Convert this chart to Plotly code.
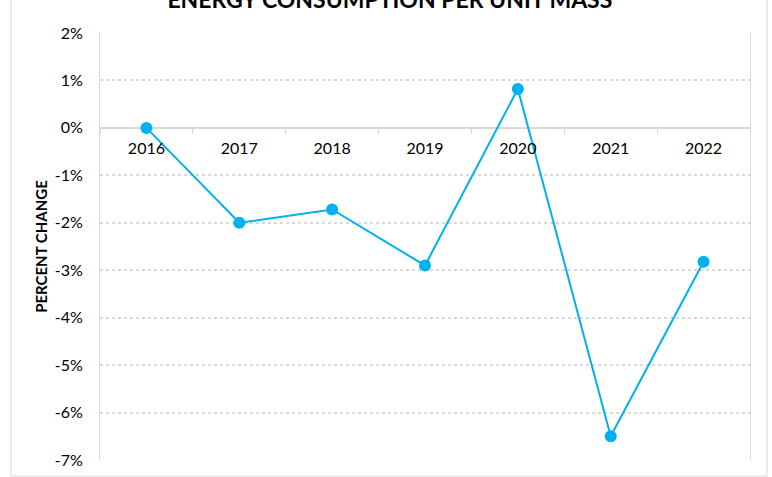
import plotly.graph_objects as go

years = ["2016", "2017", "2018", "2019", "2020", "2021", "2022"]
pct_change = [0.0, -2.0, -1.72, -2.9, 0.82, -6.5, -2.82]
y_ticks = [2, 1, 0, -1, -2, -3, -4, -5, -6, -7]
y_tick_labels = ["2%", "1%", "0%", "-1%", "-2%", "-3%", "-4%", "-5%", "-6%", "-7%"]

FONT = "Lato"
BLUE = "#00B0F0"
GRID = "#d9d9d9"

fig = go.Figure()
fig.add_trace(go.Scatter(
    x=years, y=pct_change, mode="lines+markers",
    line=dict(color=BLUE, width=2),
    marker=dict(color=BLUE, size=12),
    showlegend=False, cliponaxis=False,
))

ymin, ymax = -7, 2
fig.update_layout(
    width=772, height=477, autosize=False,
    margin=dict(l=100, r=22, t=33, b=17, autoexpand=False),
    paper_bgcolor="white", plot_bgcolor="white",
    font=dict(family=FONT, color="black", size=16),
    title=dict(text="<b>ENERGY CONSUMPTION PER UNIT MASS</b>",
               x=0.505, xanchor="center", y=1.0, yref="container", yanchor="middle",
               font=dict(family=FONT, size=23, color="black")),
    xaxis=dict(type="category", anchor="free", position=(0 - ymin) / (ymax - ymin),
               automargin=False,
               showline=False, showgrid=False, zeroline=False,
               ticks="outside", tickson="boundaries", ticklen=5, tickcolor=GRID, tickwidth=1,
               ticklabelstandoff=9,
               tickfont=dict(family=FONT, size=16, color="black"),
               range=[-0.5, 6.5]),
    yaxis=dict(range=[ymin, ymax], tickvals=y_ticks, ticktext=y_tick_labels,
               automargin=False,
               showgrid=True, gridcolor=GRID, griddash="dot", gridwidth=1.5,
               zeroline=True, zerolinecolor=GRID, zerolinewidth=2,
               showline=True, linecolor=GRID, linewidth=1, mirror=True,
               ticks="", ticklabelstandoff=13,
               tickfont=dict(family=FONT, size=16, color="black"),
               title=dict(text="<b>PERCENT CHANGE</b>", standoff=3,
                          font=dict(family=FONT, size=15, color="black"))),
)

fig.add_shape(type="rect", xref="paper", yref="paper",
              x0=(11 - 100) / 650, x1=(767 - 100) / 650,
              y0=(460 - 476) / 427, y1=1.3,
              line=dict(color="#d9d9d9", width=1), fillcolor="rgba(0,0,0,0)", layer="below")

fig.write_html("out.html", config={"displayModeBar": False},
               post_script="document.body.style.margin='0';")
